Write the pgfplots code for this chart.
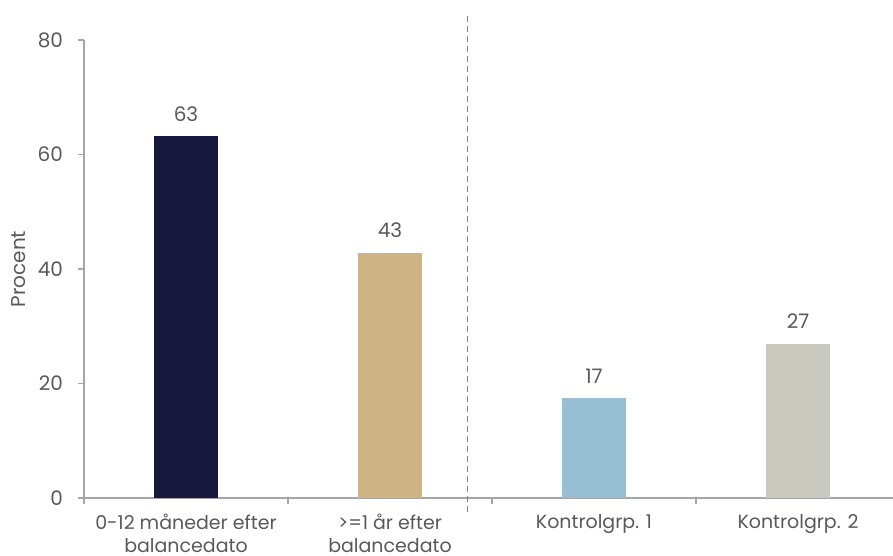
\documentclass[border=0pt]{standalone}
\usepackage{pgfplots}
\pgfplotsset{compat=1.18}
\usepackage{fontspec}
\setmainfont{Poppins}
\definecolor{navy}{HTML}{18173D}
\definecolor{tan}{HTML}{CEB482}
\definecolor{lblue}{HTML}{97BFD3}
\definecolor{lgrey}{HTML}{C8C8BE}
\definecolor{txt}{HTML}{595959}
\definecolor{axcol}{HTML}{A6A6A6}
\begin{document}
\begin{tikzpicture}
\begin{axis}[
  name=ax,
  at={(0,0)}, anchor=south west,
  scale only axis,
  width=408pt, height=229pt,
  xmin=-0.5, xmax=3.5,
  ymin=0, ymax=80,
  clip=false,
  axis lines*=left,
  axis line style={draw=axcol, line width=0.75pt},
  ytick={0,20,40,60,80},
  xtick={-0.5,0.5,1.5,2.5,3.5},
  x tick label as interval,
  xticklabels={{0-12 måneder efter\\balancedato},{>=1 år efter\\balancedato},{Kontrolgrp. 1},{Kontrolgrp. 2}},
  tick align=outside,
  major tick length=3pt,
  tick style={draw=axcol, line width=0.75pt},
  xticklabel style={align=center, font=\fontsize{9.5}{11.3}\selectfont, text=txt, yshift=-1.5pt},
  yticklabel style={font=\fontsize{10}{12}\selectfont, text=txt, xshift=-4pt},
  /pgf/number format/assume math mode=true,
  ylabel={Procent},
  ylabel style={font=\fontsize{10}{12}\selectfont, text=txt},
  ylabel shift=-1pt,
  ybar, bar width=32pt, bar shift=0pt,
  nodes near coords,
  nodes near coords style={font=\fontsize{10}{12}\selectfont, text=txt, /pgf/number format/fixed, /pgf/number format/precision=0, yshift=4pt},
]
\addplot[fill=navy, draw=none] coordinates {(0,63.2)};
\addplot[fill=tan, draw=none] coordinates {(1,42.8)};
\addplot[fill=lblue, draw=none] coordinates {(2,17.4)};
\addplot[fill=lgrey, draw=none] coordinates {(3,26.9)};
\addplot[sharp plot, draw=axcol!80!black, line width=0.75pt, dash pattern=on 3pt off 2pt, nodes near coords={}, forget plot] coordinates {(1.38,-2.4) (1.38,84.9)};
\end{axis}
\pgfresetboundingbox
\path[use as bounding box] (-42pt,-29pt) rectangle (404.5pt,249pt);
\end{tikzpicture}
\end{document}
